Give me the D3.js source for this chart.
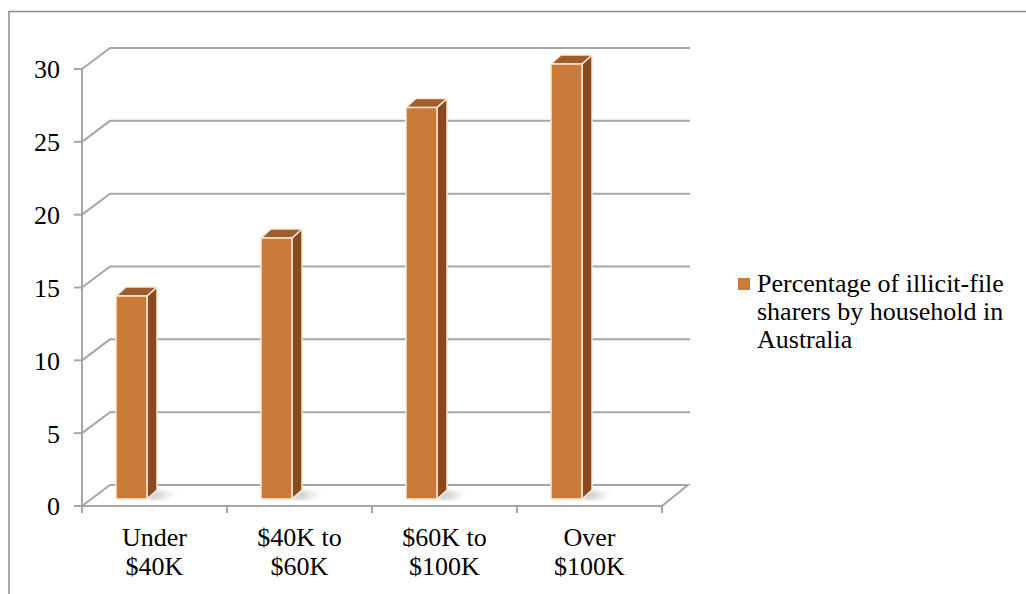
<!DOCTYPE html>
<html>
<head>
<meta charset="utf-8">
<script src="https://cdn.jsdelivr.net/npm/d3@7/dist/d3.min.js"></script>
<style>
  html, body { margin: 0; padding: 0; background: #fff; }
  svg { display: block; }
  text { font-family: "Liberation Serif", "Times New Roman", serif; fill: #000; }
</style>
</head>
<body>
<svg id="chart" width="1026" height="594"></svg>
<script>
// ---- data ----
const categories = [["Under", "$40K"], ["$40K to", "$60K"], ["$60K to", "$100K"], ["Over", "$100K"]];
const values = [14, 18, 27, 30];
const yTicks = [0, 5, 10, 15, 20, 25, 30];
const legendLines = ["Percentage of illicit-file", "sharers by household in", "Australia"];

// ---- layout ----
const svg = d3.select("#chart");
const W = 1026, H = 594;
const fontSize = 26;
const gridColor = "#A6A6A6";
const depthX = 28, depthY = -21;      // back wall offset
const barDX = 10, barDY = -9;         // bar depth offset

const catKeys = categories.map(c => c.join(" "));
const x = d3.scaleBand().domain(catKeys).range([82, 662]);
const yFront = d3.scaleLinear().domain([0, 30]).range([506, 69]);
const yBar = d3.scaleLinear().domain([0, 30]).range([499, 64]);

// outer border
svg.append("path")
  .attr("d", `M9,${H} L9,11.5 L${W},11.5`)
  .attr("fill", "none").attr("stroke", "#8C8C8C").attr("stroke-width", 1.5);

// defs: shadow gradient + blur
const defs = svg.append("defs");
const grad = defs.append("linearGradient").attr("id", "shadowGrad")
  .attr("x1", "0").attr("y1", "0").attr("x2", "1").attr("y2", "0");
grad.append("stop").attr("offset", "0").attr("stop-color", "#9a9a9a").attr("stop-opacity", 0.8);
grad.append("stop").attr("offset", "1").attr("stop-color", "#cfcfcf").attr("stop-opacity", 0);
defs.append("filter").attr("id", "blur").append("feGaussianBlur").attr("stdDeviation", 2);

const g = svg.append("g");

// back wall gridlines + diagonals
yTicks.forEach(t => {
  const yf = yFront(t);
  if (t > 0) {
    g.append("path")
      .attr("d", `M82,${yf} L${82 + depthX},${yf + depthY} L${690},${yf + depthY}`)
      .attr("fill", "none").attr("stroke", gridColor).attr("stroke-width", 2);
  }
});

// floor
const y0 = yFront(0);
g.append("path")
  .attr("d", `M82,${y0} L${82 + depthX},${y0 + depthY} L${662 + 26},${y0 + depthY} L662,${y0} Z`)
  .attr("fill", "none").attr("stroke", gridColor).attr("stroke-width", 2);

// vertical axis
g.append("line").attr("x1", 82).attr("x2", 82)
  .attr("y1", yFront(30)).attr("y2", y0 + 7)
  .attr("stroke", gridColor).attr("stroke-width", 2);

// y ticks & labels
yTicks.forEach(t => {
  g.append("line").attr("x1", 74).attr("x2", 82)
    .attr("y1", yFront(t)).attr("y2", yFront(t))
    .attr("stroke", gridColor).attr("stroke-width", 2);
  g.append("text").attr("x", 60).attr("y", yFront(t)).attr("dy", "0.36em")
    .attr("text-anchor", "end").attr("font-size", fontSize).text(t);
});

// category ticks
catKeys.forEach((k, i) => {
  const xe = x(k) + x.bandwidth();
  g.append("line").attr("x1", xe).attr("x2", xe)
    .attr("y1", y0).attr("y2", y0 + 7)
    .attr("stroke", gridColor).attr("stroke-width", 2);
});

// category labels
categories.forEach((c, i) => {
  const cx = x(catKeys[i]) + x.bandwidth() / 2;
  const t = g.append("text").attr("text-anchor", "middle").attr("font-size", fontSize);
  t.append("tspan").attr("x", cx).attr("y", 546).text(c[0]);
  t.append("tspan").attr("x", cx).attr("y", 575).text(c[1]);
});

// bars
const barW = 31;
const cFront = "#C97B3A", cSide = "#8A4A1E", cTop = "#9E5D2A", cEdge = "#FCE9D6";
values.forEach((v, i) => {
  const x0 = x(catKeys[i]) + 34;
  const x1 = x0 + barW;
  const yb = yBar(0), yt = yBar(v);
  // floor shadow
  g.append("path")
    .attr("d", `M${x1},${yb} L${x1 + barDX},${yb + barDY} L${x1 + barDX + 22},${yb + barDY + 2} L${x1 + 18},${yb + 1} Z`)
    .attr("fill", "url(#shadowGrad)").attr("filter", "url(#blur)");
  // side
  g.append("path")
    .attr("d", `M${x1},${yb} L${x1},${yt} L${x1 + barDX},${yt + barDY} L${x1 + barDX},${yb + barDY} Z`)
    .attr("fill", cSide).attr("stroke", cEdge).attr("stroke-width", 1.5).attr("stroke-linejoin", "round");
  // top
  g.append("path")
    .attr("d", `M${x0},${yt} L${x0 + barDX},${yt + barDY} L${x1 + barDX},${yt + barDY} L${x1},${yt} Z`)
    .attr("fill", cTop).attr("stroke", cEdge).attr("stroke-width", 1.5).attr("stroke-linejoin", "round");
  // front
  g.append("rect").attr("x", x0).attr("y", yt).attr("width", barW).attr("height", yb - yt)
    .attr("fill", cFront).attr("stroke", cEdge).attr("stroke-width", 1.5);
});

// legend
g.append("rect").attr("x", 738).attr("y", 278).attr("width", 12).attr("height", 12).attr("fill", cFront);
const lt = g.append("text").attr("font-size", fontSize);
legendLines.forEach((l, i) => {
  lt.append("tspan").attr("x", 757).attr("y", 292 + i * 28).text(l);
});
</script>
</body>
</html>
